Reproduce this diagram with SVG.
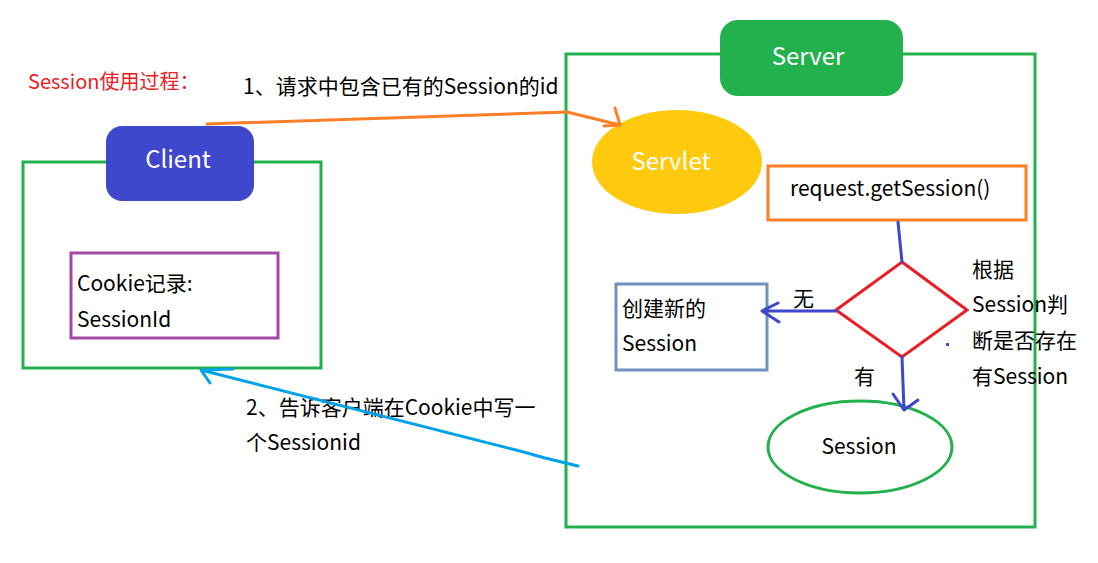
<svg xmlns="http://www.w3.org/2000/svg" width="1098" height="563" viewBox="0 0 1098 563">
<style>
text{font-family:"Microsoft YaHei","Noto Sans CJK SC","Noto Sans",sans-serif;font-size:21px;fill:#000}
.w{fill:#fff;font-size:24px}
.frame{fill:none;stroke:#22b14c;stroke-width:3}
</style>
<rect width="1098" height="563" fill="#fff"/>
<g id="title"><text x="28" y="89" style="fill:#ed1c24;font-size:20px">Session使用过程：</text></g>
<g id="client">
<rect class="frame" x="23" y="162" width="298" height="206"/>
<rect x="106" y="126" width="148" height="75" rx="16" fill="#3f48cc"/>
<text class="w" x="178" y="168" text-anchor="middle">Client</text>
</g>
<g id="cookie">
<rect x="71" y="253" width="207" height="85" fill="none" stroke="#a349a4" stroke-width="3"/>
<text x="77" y="291">Cookie记录:</text>
<text x="77" y="327">SessionId</text>
</g>
<g id="server">
<rect class="frame" x="566" y="54" width="469" height="473"/>
<rect x="720" y="20" width="183" height="76" rx="18" fill="#22b14c"/>
<text class="w" x="808" y="65" text-anchor="middle">Server</text>
</g>
<g id="servlet">
<ellipse cx="677" cy="162" rx="85" ry="52" fill="#ffc90e"/>
<text class="w" x="671" y="170" text-anchor="middle">Servlet</text>
</g>
<g id="getsession">
<rect x="768" y="166" width="258" height="54" fill="#fff" stroke="#ff7f27" stroke-width="3"/>
<text x="790" y="196">request.getSession()</text>
</g>
<g id="decision">
<polygon points="902,262 967,310 902,357 836,310" fill="none" stroke="#ed1c24" stroke-width="3"/>
</g>
<g id="newsession">
<rect x="616" y="284" width="151" height="86" fill="none" stroke="#7092be" stroke-width="3"/>
<text x="622" y="316">创建新的</text>
<text x="622" y="351">Session</text>
</g>
<g id="session">
<ellipse cx="860" cy="447" rx="92" ry="46" fill="none" stroke="#22b14c" stroke-width="3"/>
<text x="859" y="454" text-anchor="middle">Session</text>
</g>
<g id="labels">
<text x="243" y="94">1、请求中包含已有的Session的id</text>
<text x="246" y="415">2、告诉客户端在Cookie中写一</text>
<text x="246" y="450">个Sessionid</text>
<text x="793" y="306">无</text>
<text x="854" y="384">有</text>
<text x="972" y="277">根据</text>
<text x="972" y="312">Session判</text>
<text x="972" y="348">断是否存在</text>
<text x="972" y="384">有Session</text>
<rect x="946" y="343" width="3" height="3" fill="#3f48cc"/>
</g>
<g id="connectors" fill="none" stroke-width="3" stroke-linecap="round" stroke-linejoin="round">
<path d="M207,124 L567,112 L620,125 M604,126 L620,125 L615,108" stroke="#ff7f27"/>
<path d="M578,466 L545,458 L520,451 L201,370 M233,369 L201,370 L210,383" stroke="#00a2e8"/>
<path d="M898,222 L902,262" stroke="#3f48cc"/>
<path d="M836,311 L762,311 M778,303 L762,311 L779,322" stroke="#3f48cc"/>
<path d="M902,357 L904,410 M893,394 L904,410 L918,400" stroke="#3f48cc"/>
</g>
</svg>
